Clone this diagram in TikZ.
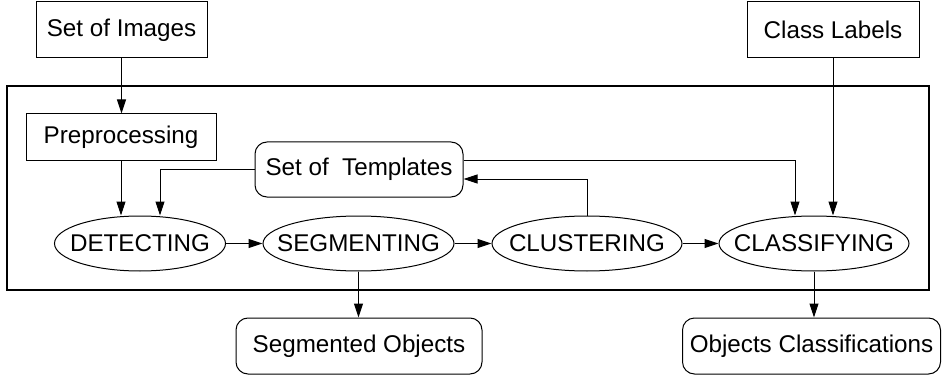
\documentclass[tikz,border=0pt]{standalone}
\usepackage{fontspec}
\setmainfont{Liberation Sans}
\usetikzlibrary{shapes.geometric,arrows.meta}
\begin{document}
\begin{tikzpicture}[x=1pt,y=-1pt,
  every node/.style={font=\fontsize{24.2}{28}\selectfont, inner sep=0pt},
  every label/.style={font=\fontsize{24.2}{28}\selectfont, inner sep=0pt},
  sqbox/.style={draw, line width=1pt, rectangle, minimum width=#1, minimum height=56},
  rbox/.style={draw, line width=1pt, rectangle, rounded corners=12pt, minimum width=#1, minimum height=56},
  oval/.style={draw, line width=1pt, ellipse, minimum width=#1, minimum height=55},
  arr/.style={line width=1pt, -{Triangle[length=14pt,width=9pt]}},
  frm/.style={draw, line width=2pt, rectangle, minimum width=922, minimum height=204}]
\useasboundingbox (0,0) rectangle (942,377);
\node[frm] (frame) at (468,188) {};
\node[sqbox=171] (img) at (121.5,30) {Set of Images};
\node[sqbox=172] (lab) at (833,30) {Class Labels};
\node[sqbox=190, minimum height=46] (pre) at (121,137) {Preprocessing};
\node[rbox=208, minimum height=55] (tmpl) at (359,169.5) {Set of\ \ Templates};
\node[oval=171, label=center:DETECTING] (det) at (140,243.5) {};
\node[oval=191, label=center:SEGMENTING] (seg) at (358.5,243.5) {};
\node[oval=190, label=center:CLUSTERING] (clu) at (587,243.5) {};
\node[oval=190, label=center:CLASSIFYING] (cls) at (814,243.5) {};
\node[rbox=246] (sego) at (359,346) {Segmented Objects};
\node[rbox=258] (clso) at (811.5,346) {Objects Classifications};
\draw[arr] (img.south) -- (img.south |- pre.north);
\draw[arr] (pre.south) -- (pre.south |- det.north);
\draw[arr] (tmpl.west) -| ([xshift=20pt]det.north);
\draw[arr] ([yshift=9.5pt]tmpl.east) -| ([xshift=-19pt]cls.north);
\draw[arr] (clu.north) |- ([yshift=-9.5pt]tmpl.east);
\draw[arr] (lab.south) -- (lab.south |- cls.north);
\draw[arr] (det.east) -- (seg.west);
\draw[arr] (seg.east) -- (clu.west);
\draw[arr] (clu.east) -- (cls.west);
\draw[arr] (seg.south) -- (seg.south |- sego.north);
\draw[arr] (cls.south) -- (cls.south |- clso.north);
\end{tikzpicture}
\end{document}
